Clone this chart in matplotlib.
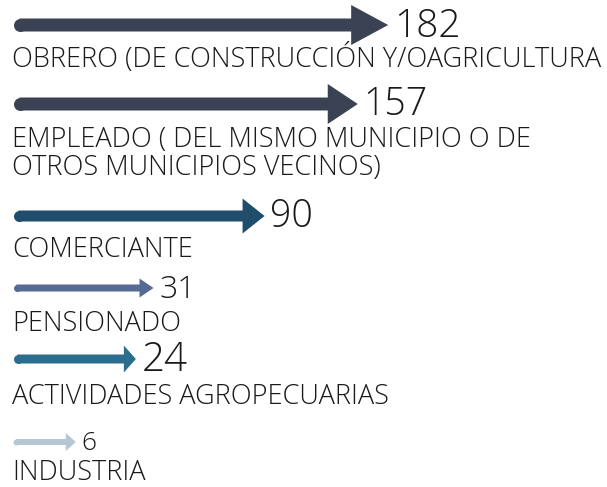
import numpy as np
import matplotlib
matplotlib.use("Agg")
from matplotlib import pyplot as plt
from matplotlib.patches import ArrowStyle
from matplotlib.transforms import blended_transform_factory

# datos
ocupaciones = ["OBRERO (DE CONSTRUCCIÓN Y/OAGRICULTURA",
               "EMPLEADO ( DEL MISMO MUNICIPIO O DE\nOTROS MUNICIPIOS VECINOS)",
               "COMERCIANTE",
               "PENSIONADO",
               "ACTIVIDADES AGROPECUARIAS",
               "INDUSTRIA"]
personas = [182, 157, 90, 31, 24, 6]

# estilo de cada fila (pixeles)
colores = ["#3a4253", "#3a4253", "#1f4d6b", "#566a93", "#2b6d8f", "#b5c7d4"]
fila_y = [25, 104, 216, 288, 359, 442]
label_y = [67, 175, 257, 331, 404, 480]
grosor = [13, 13, 11, 7, 9, 6]
punta_l = [37, 30, 22, 14, 12, 10]
punta_h = [40, 40, 35, 19, 27, 18]
num_size = [28, 27, 27, 23, 29, 19]

PX = 0.72  # puntos por pixel a dpi 100
W, H = 607, 487

plt.rcParams['font.family'] = ['Open Sans', 'DejaVu Sans']

fig = plt.figure(figsize=(W / 100, H / 100), dpi=100)
ax = fig.add_axes([0, 0, 1, 1])

# escala potencia para el largo de las flechas
pw = 0.6
f = lambda x: np.sign(x) * np.abs(x) ** pw
finv = lambda x: np.sign(x) * np.abs(x) ** (1 / pw)
ax.set_xscale('function', functions=(f, finv))
a, k = 29.5, 15.8
ax.set_xlim(finv((0 - a) / k), finv((W - a) / k))
ax.set_ylim(H, 0)
ax.axis('off')

trans = blended_transform_factory(ax.transAxes, ax.transData)

for i, (lab, v) in enumerate(zip(ocupaciones, personas)):
    y = fila_y[i]
    x0 = (13 + grosor[i] / 2) / W
    estilo = ArrowStyle.Simple(head_length=punta_l[i] * PX,
                               head_width=punta_h[i] * PX,
                               tail_width=grosor[i] * PX)
    ax.annotate('', xy=(v, y), xycoords='data',
                xytext=(x0, y), textcoords=trans,
                arrowprops=dict(arrowstyle=estilo, color=colores[i], lw=0,
                                shrinkA=0, shrinkB=0, mutation_scale=1))
    ax.plot([x0], [y], 'o', ms=grosor[i] * PX, color=colores[i],
            mec='none', transform=trans)
    ax.annotate(str(v), xy=(v, y), xytext=(4, -0.3 * num_size[i]),
                textcoords='offset points', fontsize=num_size[i],
                color='#1a1a1a', va='baseline', ha='left', fontweight='light')
    ax.text(12 / W, label_y[i], lab, transform=trans, fontsize=19.5,
            color='#1a1a1a', va='baseline', ha='left', linespacing=1.0,
            fontweight='light')

fig.savefig("out.png", dpi=100)
